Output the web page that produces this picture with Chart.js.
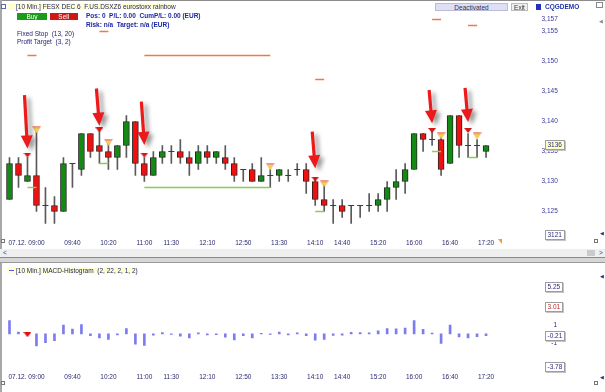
<!DOCTYPE html>
<html>
<head>
<meta charset="utf-8">
<script src="https://cdn.jsdelivr.net/npm/chart.js@4.4.0/dist/chart.umd.min.js"></script>
<style>
  body { margin: 0; width: 605px; height: 392px; overflow: hidden; background: #fff; position: relative;
         font-family: "Liberation Sans", Arial, sans-serif; }
  canvas { position: absolute; left: 0; }
  .t { position: absolute; white-space: pre; font-size: 6.5px; line-height: 8px; color: #24246e; }
  .b { position: absolute; box-sizing: border-box; }
</style>
</head>
<body>
<canvas id="main" width="605" height="250" style="top:0"></canvas>
<canvas id="macd" width="605" height="130" style="top:262px"></canvas>

<!-- frame -->
<div class="b" style="left:0;top:0;width:605px;height:1px;background:#8c8c8c"></div>
<div class="b" style="left:0;top:0;width:2px;height:258px;background:#a8a8a8"></div>
<div class="b" style="left:0;top:249px;width:605px;height:8px;background:#efefef"></div>
<div class="t" style="left:3px;top:249px;color:#444">&lt;</div>
<div class="t" style="left:599px;top:249px;color:#444">&gt;</div>
<div class="b" style="left:587px;top:250px;width:8px;height:6px;background:#cacaca"></div>
<div class="b" style="left:0;top:257px;width:605px;height:6px;background:#d6d6d6;border-top:1px solid #8a8a8a;border-bottom:1px solid #9a9a9a"></div>
<div class="b" style="left:0;top:263px;width:2px;height:129px;background:#a8a8a8"></div>

<!-- main header -->
<div class="b" style="left:1px;top:4px;width:5px;height:5px;border:1px solid #5a6aa8"></div>
<div class="t" style="left:7px;top:3px;width:166px;height:7px;line-height:7px;background:#ffffd4;padding-left:9px;box-sizing:border-box">[10 Min.] FESX DEC 6  F.US.DSXZ6 eurostoxx rainbow</div>
<div class="t" style="left:17px;top:12.5px;width:30px;height:7.5px;line-height:7.5px;background:#179d17;color:#fff;text-align:center">Buy</div>
<div class="t" style="left:49.5px;top:12.5px;width:28.5px;height:7.5px;line-height:7.5px;background:#cd1717;color:#fff;text-align:center">Sell</div>
<div class="t" style="left:86px;top:12px;font-weight:bold;color:#1c26a2">Pos: 0  P/L: 0.00  CumP/L: 0.00 (EUR)</div>
<div class="t" style="left:86px;top:20.5px;font-weight:bold;color:#1c26a2">Risk: n/a  Target: n/a (EUR)</div>
<div class="t" style="left:17px;top:29.5px">Fixed Stop  (13, 20)</div>
<div class="t" style="left:17px;top:38px">Profit Target  (3, 2)</div>
<div class="t" style="left:435px;top:3px;width:73px;height:8px;line-height:7px;background:#dedef7;border:1px solid #bcbcd8;box-sizing:border-box;text-align:center;color:#333">Deactivated</div>
<div class="t" style="left:511px;top:3px;width:17px;height:8px;line-height:7px;background:#efefef;border:1px solid #bbb;box-sizing:border-box;text-align:center;color:#333">Exit</div>
<div class="b" style="left:536px;top:3.5px;width:5px;height:6.5px;background:#2233bb"></div>
<div class="t" style="left:545px;top:2.5px;font-weight:bold;color:#2233aa">CQGDEMO</div>
<div class="b" style="left:596px;top:2px;width:7px;height:6px;border:1px solid #888"></div>
<div class="t" style="left:599px;top:17px;color:#888;font-size:5px">◀</div>
<div class="t" style="left:600px;top:229px;color:#22307a;font-size:5px">◀</div>
<div class="b" style="left:1px;top:239px;width:4px;height:4px;border:1px solid #777"></div>
<div class="b" style="left:594px;top:239px;width:4px;height:4px;border:1px solid #777"></div>
<div class="b" style="left:498px;top:239px;width:0;height:0;border-left:4px solid transparent;border-top:5px solid #f0a020"></div>

<!-- macd header -->
<div class="t" style="left:7px;top:266.5px;width:130px;height:7px;line-height:7px;background:#ffffd4;padding-left:9px;box-sizing:border-box">[10 Min.] MACD-Histogram  (2, 22, 2, 1, 2)</div>
<div class="b" style="left:8.5px;top:269.5px;width:5px;height:1px;background:#5555dd"></div>
<div class="t" style="left:600px;top:272px;color:#22307a;font-size:5px">◀</div>
<div class="t" style="left:600px;top:373px;color:#22307a;font-size:5px">◀</div>
<div class="b" style="left:1px;top:381px;width:4px;height:4px;border:1px solid #777"></div>
<div class="b" style="left:594px;top:381px;width:4px;height:4px;border:1px solid #777"></div>

<script>
// 10 minute slots, 07.12.
const times = ["08:30","08:40","08:50","09:00","09:10","09:20","09:30","09:40","09:50","10:00",
  "10:10","10:20","10:30","10:40","10:50","11:00","11:10","11:20","11:30","11:40",
  "11:50","12:00","12:10","12:20","12:30","12:40","12:50","13:00","13:10","13:20",
  "13:30","13:40","13:50","14:00","14:10","14:20","14:30","14:40","14:50","15:00",
  "15:10","15:20","15:30","15:40","15:50","16:00","16:10","16:20","16:30","16:40",
  "16:50","17:00","17:10","17:20","17:30","17:40","17:50","18:00","18:10"];
const shownTimes = ["09:00","09:40","10:20","11:00","11:30","12:10","12:50","13:30","14:10","14:40","15:20","16:00","16:40","17:20"];
const datePrefix = "07.12. ";

const opens  = [3127,3133,3130,3131,3126,3126,3125,3133,3132,3138, 3136,3135,3134,3136,3140,3133,3131,3134,3135,3135,
                3134,3133,3135,3134,3134,3133,3132,3132,3130,3131, 3131,3131,3132,3132,3130,3127,3126,3126,3126,3126,
                3126,3126,3127,3129,3130,3132,3138,3137,3137,3133, 3141,3136,3136,3135];
const highs  = [3134,3134,3134,3139,3129,3127.5,3134,3133,3138,3138, 3138.5,3136.5,3136,3141,3140,3134,3135,3136,3136,3137,
                3135,3136,3136,3135,3136,3134,3132,3133,3134,3132, 3132,3132,3133,3133,3130.5,3129.5,3127,3127,3126,3126,
                3128,3128,3130,3132,3133,3138,3138,3138.3,3137.5,3141, 3141,3138,3137,3136];
const lows   = [3127,3129,3130,3125,3123,3123,3125,3129,3131,3134, 3133,3132,3132,3134,3131,3130,3131,3133,3133,3133,
                3131,3132,3133,3133,3132,3130,3130,3130,3130,3129, 3130,3130,3131,3128,3126,3125,3123,3124,3123,3124,
                3125,3125,3125,3127,3128,3132,3135,3136,3131,3133, 3134,3134,3134,3134];
const closes = [3133,3131,3131,3126,3126,3125,3133,3133,3138,3135, 3135,3134,3136,3140,3133,3131,3134,3135,3135,3134,
                3133,3135,3134,3135,3133,3131,3132,3130,3131,3131, 3132,3131,3132,3130,3127,3126,3126,3125,3126,3126,
                3126,3127,3129,3130,3132,3138,3137,3137,3132,3141, 3136,3136,3136,3136];

// trades (short entries)
const entryIdx   = [2, 10, 15, 34, 47, 51];
const exitIdx    = [3, 11, 29, 35, 48, 52];
const stopLvl    = [3151, 3155, 3151, 3147, 3157, 3156];
const targetLvl  = [3129, 3133, 3129, 3125, 3135, 3134];
const entryMark  = [3134.4, 3138.6, 3134.4, 3130.4, 3138.5, 3138.5];
const exitMark   = [3138.6, 3136.5, 3132.5, 3129.6, 3137.6, 3137.6];
const arrowTip   = [3135.5, 3139.3, 3136.1, 3132.2, 3139.7, 3139.9];
const arrowTail  = [3144.4, 3145.5, 3143.3, 3138.3, 3145.25, 3145.6];

const priceTicks = [3157, 3155, 3150, 3145, 3140, 3135, 3130, 3125];
const priceTags  = [3136, 3121];

const macdHist = [1.52,0.21,-0.05,-1.36,-1.0,-0.76,1.0,0.55,1.06,-0.21, -0.45,-0.61,-0.12,0.61,-1.15,-1.3,-0.15,0.15,-0.06,-0.24,
                  -0.45,0.12,-0.12,-0.09,-0.36,-0.67,-0.21,-0.45,0.06,-0.06, 0.21,-0.12,0.12,-0.21,-0.7,-0.61,-0.18,-0.15,0.18,0.15,
                  0.12,0.36,0.61,0.58,0.67,1.52,0.52,0.1,-1.06,1.0, -0.33,-0.45,-0.3,-0.21];
const macdSignalIdx = [2];
const macdSignalVal = [-0.08];
const macdTicks = [1, -1];
const macdTags  = [5.25, 3.01, -0.21, -3.78];

Chart.defaults.font.family = '"Liberation Sans", Arial, sans-serif';
Chart.defaults.font.size = 6.5;

// marker pictures
function makeEntryImg() {
  const c = document.createElement("canvas");
  c.width = 8; c.height = 5;
  const g = c.getContext("2d");
  g.fillStyle = "#d81414";
  g.beginPath(); g.moveTo(0, 0); g.lineTo(8, 0); g.lineTo(4, 5); g.closePath(); g.fill();
  return c;
}
function makeExitImg() {
  const c = document.createElement("canvas");
  c.width = 9; c.height = 7;
  const g = c.getContext("2d");
  g.fillStyle = "#f09a86";
  g.beginPath(); g.moveTo(0, 0); g.lineTo(9, 0); g.lineTo(4.5, 7); g.closePath(); g.fill();
  g.fillStyle = "#e8e224";
  g.beginPath(); g.moveTo(1.8, 2); g.lineTo(7.2, 2); g.lineTo(4.5, 6); g.closePath(); g.fill();
  return c;
}
const entryImg = makeEntryImg();
const exitImg = makeExitImg();

function tickLabel(value, index) {
  const lab = times[index];
  if (!shownTimes.includes(lab)) return "";
  if (lab === shownTimes[0]) return datePrefix + lab + "           ";
  return lab;
}

function makeTags(values, x, colors) {
  return {
    id: "tags",
    afterDraw(chart) {
      const { ctx } = chart;
      const y = chart.scales.y;
      ctx.save();
      ctx.font = '6.5px "Liberation Sans"';
      ctx.textBaseline = "middle";
      values.forEach((v, k) => {
        const py = Math.round(y.getPixelForValue(v));
        const text = String(v);
        const w = Math.ceil(ctx.measureText(text).width) + 5;
        const by = py - 5;
        ctx.fillStyle = "#c4c4c4";
        ctx.fillRect(x + 1, by + 1, w, 10);
        ctx.fillStyle = colors[k].bg;
        ctx.fillRect(x, by, w, 10);
        ctx.strokeStyle = "#9c9c9c";
        ctx.lineWidth = 1;
        ctx.strokeRect(x + 0.5, by + 0.5, w - 1, 9);
        ctx.fillStyle = colors[k].fg;
        ctx.fillText(text, x + 2.5, py + 0.5);
      });
      ctx.restore();
    }
  };
}

const arrows = {
  id: "arrows",
  afterDatasetsDraw(chart) {
    const { ctx } = chart;
    const { x, y } = chart.scales;
    ctx.save();
    ctx.fillStyle = "#ec1a1a";
    ctx.shadowColor = "rgba(70,70,70,0.55)";
    ctx.shadowBlur = 4;
    ctx.shadowOffsetX = 4;
    ctx.shadowOffsetY = 3;
    entryIdx.forEach((i, k) => {
      const tx = x.getPixelForValue(i), ty = y.getPixelForValue(arrowTip[k]);
      const sx = tx - 3, sy = y.getPixelForValue(arrowTail[k]);
      const len = Math.hypot(tx - sx, ty - sy);
      const ux = (tx - sx) / len, uy = (ty - sy) / len;
      const nx = -uy, ny = ux;
      const hl = 13, hw = 6, sw = 1.6;
      const bx = tx - ux * hl, by = ty - uy * hl;
      ctx.beginPath();
      ctx.moveTo(sx + nx * sw, sy + ny * sw);
      ctx.lineTo(bx + nx * sw, by + ny * sw);
      ctx.lineTo(bx + nx * hw, by + ny * hw);
      ctx.lineTo(tx, ty);
      ctx.lineTo(bx - nx * hw, by - ny * hw);
      ctx.lineTo(bx - nx * sw, by - ny * sw);
      ctx.lineTo(sx - nx * sw, sy - ny * sw);
      ctx.closePath();
      ctx.fill();
    });
    ctx.restore();
  }
};

const bodyColors = opens.map((o, i) => closes[i] >= o ? "#138a13" : "#f01010");

const levelSets = [];
entryIdx.forEach((e, k) => {
  levelSets.push({ type: "line", data: [{ x: times[e], y: stopLvl[k] }, { x: times[exitIdx[k]], y: stopLvl[k] }],
    borderColor: "#f07848", borderWidth: 1.5, pointRadius: 0, order: 2 });
  levelSets.push({ type: "line", data: [{ x: times[e], y: targetLvl[k] }, { x: times[exitIdx[k]], y: targetLvl[k] }],
    borderColor: "#86d04c", borderWidth: 1.5, pointRadius: 0, order: 2 });
});

new Chart(document.getElementById("main"), {
  type: "bar",
  data: {
    labels: times,
    datasets: [
      { data: lows.map((l, i) => [l, highs[i]]), backgroundColor: "#5a5a5a", barThickness: 1, grouped: false, order: 5 },
      { data: opens.map((o, i) => [o, closes[i]]), backgroundColor: bodyColors, borderColor: "#262626",
        borderWidth: 1, borderSkipped: false, barThickness: 6, grouped: false, order: 4 },
      { type: "line", data: opens.map((o, i) => o === closes[i] ? o : null), showLine: false,
        pointStyle: "line", pointRadius: 3, borderColor: "#3a3a3a", borderWidth: 1, order: 3 },
      ...levelSets,
      { type: "line", showLine: false, data: entryIdx.map((e, k) => ({ x: times[e], y: entryMark[k] })),
        pointStyle: entryImg, order: 1 },
      { type: "line", showLine: false, data: exitIdx.map((e, k) => ({ x: times[e], y: exitMark[k] })),
        pointStyle: exitImg, order: 1 }
    ]
  },
  options: {
    responsive: false,
    animation: false,
    layout: { padding: { left: 4.5, top: 12, right: 0, bottom: 0 } },
    plugins: { legend: { display: false }, tooltip: { enabled: false } },
    scales: {
      x: {
        offset: true,
        grid: { display: false, drawTicks: false },
        border: { display: false },
        ticks: { autoSkip: false, maxRotation: 0, minRotation: 0, padding: 1, color: "#2a2a6e", callback: tickLabel },
        afterFit(s) { s.height = 12; }
      },
      y: {
        position: "right",
        min: 3120.583,
        max: 3158.25,
        grid: { display: false, drawTicks: false },
        border: { display: false },
        afterBuildTicks(s) { s.ticks = priceTicks.map(v => ({ value: v })); },
        ticks: { padding: 6, color: "#3a3a9a" },
        afterFit(s) { s.width = 69.5; }
      }
    }
  },
  plugins: [arrows, makeTags(priceTags, 545, [{ bg: "#ffffc6", fg: "#2a2a80" }, { bg: "#ffffff", fg: "#2a2a80" }])]
});

new Chart(document.getElementById("macd"), {
  type: "bar",
  data: {
    labels: times,
    datasets: [
      { data: macdHist, backgroundColor: "#7c7cf0", barThickness: 2, order: 2 },
      { type: "line", showLine: false, data: macdSignalIdx.map((e, k) => ({ x: times[e], y: macdSignalVal[k] })),
        pointStyle: entryImg, order: 1 }
    ]
  },
  options: {
    responsive: false,
    animation: false,
    layout: { padding: { left: 4.5, top: 8, right: 48, bottom: 0 } },
    plugins: { legend: { display: false }, tooltip: { enabled: false } },
    scales: {
      x: {
        offset: true,
        grid: { display: false, drawTicks: false },
        border: { display: false },
        ticks: { autoSkip: false, maxRotation: 0, minRotation: 0, padding: 1, color: "#2a2a6e", callback: tickLabel },
        afterFit(s) { s.height = 10; }
      },
      y: {
        position: "right",
        min: -4.309,
        max: 5.873,
        grid: { display: false, drawTicks: false },
        border: { display: false },
        afterBuildTicks(s) { s.ticks = macdTicks.map(v => ({ value: v })); },
        ticks: { padding: 16, crossAlign: "far", color: "#2a2a80" },
        afterFit(s) { s.width = 21.5; }
      }
    }
  },
  plugins: [makeTags(macdTags, 545, [
    { bg: "#ffffff", fg: "#2a2a80" }, { bg: "#ffffff", fg: "#c02828" },
    { bg: "#ffffff", fg: "#2a2a80" }, { bg: "#ffffff", fg: "#2a2a80" }])]
});
</script>
</body>
</html>
